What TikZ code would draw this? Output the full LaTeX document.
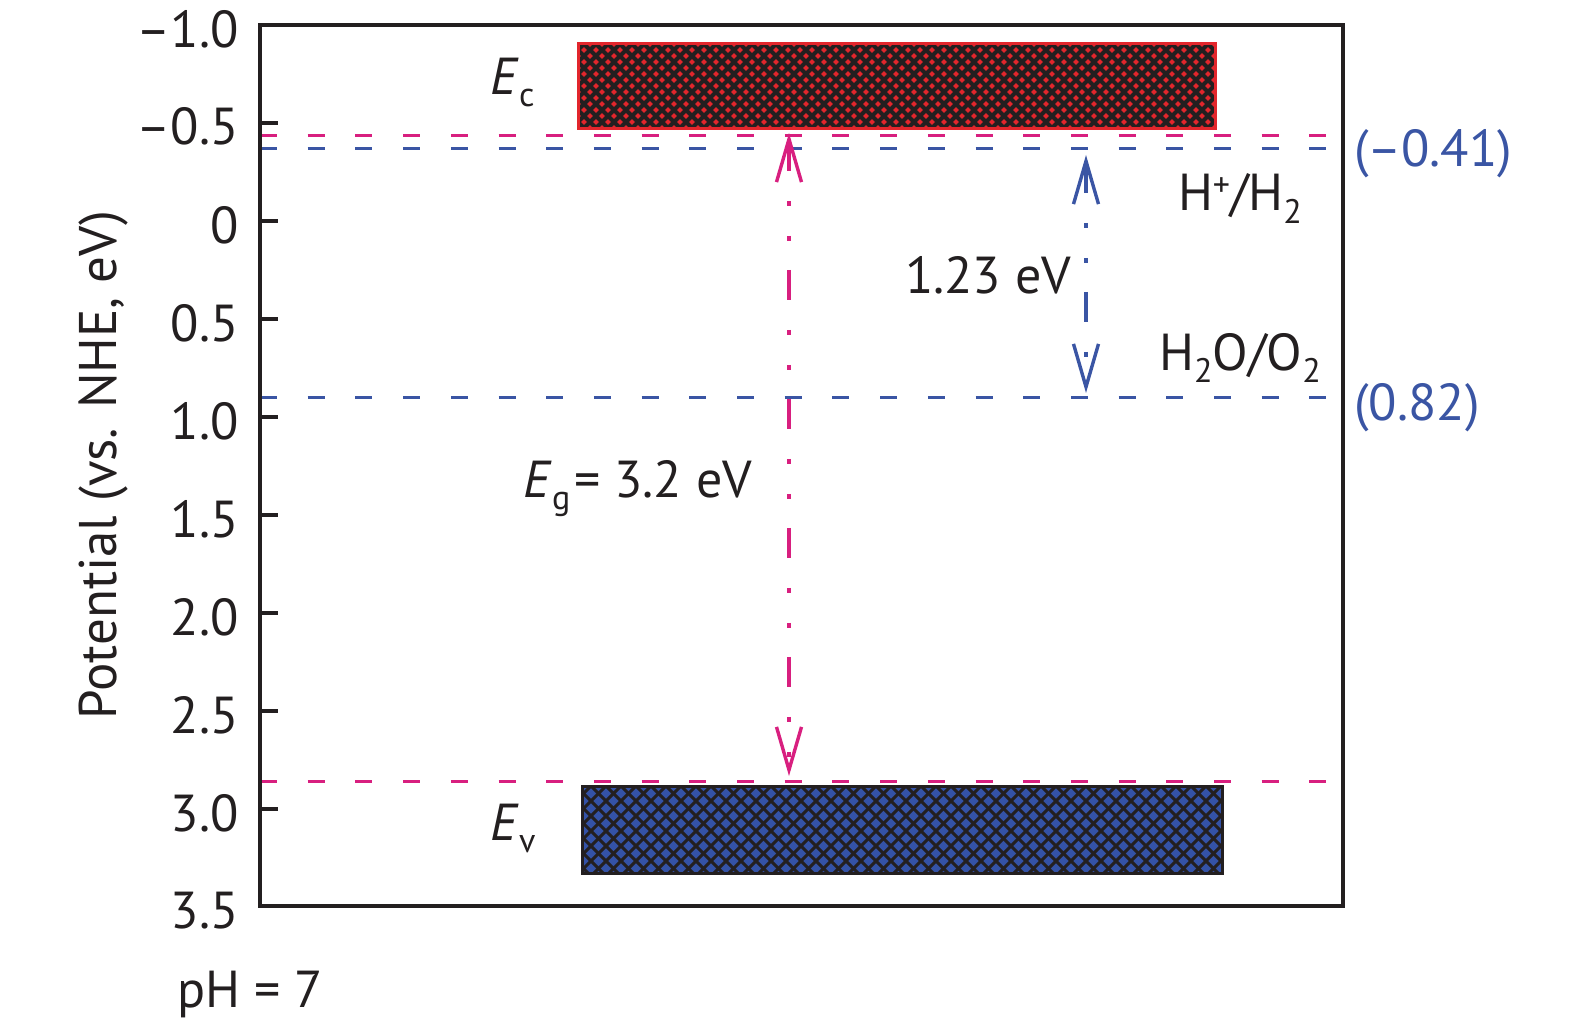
\documentclass[tikz,border=0pt]{standalone}
\usepackage{fontspec}
\setmainfont{PT Sans}
\usetikzlibrary{arrows.meta}
\definecolor{mag}{HTML}{D81F7F}
\definecolor{bl}{HTML}{3A55A4}
\definecolor{rd}{HTML}{E2262C}
\definecolor{ink}{HTML}{231F20}
\definecolor{bbar}{HTML}{3452A6}
\newcommand{\mysub}[1]{\raisebox{-6pt}{\fontsize{17}{17}\selectfont #1}}
\newcommand{\mysup}[1]{\raisebox{7pt}{\fontsize{17}{17}\selectfont #1}}
\tikzset{
 lbl/.style={font=\fontsize{26}{31}\selectfont, text=ink, inner sep=0pt},
 bluelbl/.style={lbl, text=bl},
 axisline/.style={draw=ink, line width=1.75pt},
 level/.style={line width=1.6pt, dash pattern=on 8.5pt off 15.35pt},
 gaparrow/.style={line width=1.7pt,
   dash pattern=on 15pt off 15pt on 2.5pt off 15pt on 2.5pt off 14.5pt,
   >={Straight Barb[length=21.5pt,width=12.5pt]}, <->},
}
\begin{document}
\begin{tikzpicture}[x=0.5pt,y=-0.5pt]
\useasboundingbox (0,0) rectangle (1575,1022);

% conduction band (red hatched)
\begin{scope}
  \clip (578,44) rectangle (1215,129);
  \fill[rd] (578,44) rectangle (1215,129);
  \foreach \x in {488,500,...,1312} {
    \draw[ink, line width=2.1pt] (\x,44) -- ++(85,85);
    \draw[ink, line width=2.1pt] (\x,44) -- ++(-85,85);
  }
\end{scope}
\draw[rd, line width=1.5pt] (578,44) rectangle (1215,129);

% valence band (blue hatched)
\begin{scope}
  \clip (582,786) rectangle (1222,873);
  \fill[bbar] (582,786) rectangle (1222,873);
  \foreach \x in {486,501,...,1326} {
    \draw[ink, line width=1.5pt] (\x,786) -- ++(87,87);
    \draw[ink, line width=1.5pt] (\x,786) -- ++(-87,87);
  }
\end{scope}
\draw[ink, line width=1.5pt] (582,786) rectangle (1222,873);

% level coordinates
\coordinate (cbL) at (260,135.5);  \coordinate (cbR) at (1343,135.5);
\coordinate (hL)  at (260,148.5);  \coordinate (hR)  at (1343,148.5);
\coordinate (oL)  at (260,397.5);  \coordinate (oR)  at (1343,397.5);
\coordinate (vbL) at (260,781.5);  \coordinate (vbR) at (1343,781.5);

\draw[level, mag] (cbL) -- (cbR);
\draw[level, bl]  (hL) -- (hR);
\draw[level, bl]  (oL) -- (oR);
\draw[level, mag] (vbL) -- (vbR);

% frame and ticks
\draw[axisline] (260,25) rectangle (1343,906);
\foreach \v in {-0.5,0,0.5,1.0,1.5,2.0,2.5,3.0} {
  \draw[ink, line width=1.75pt] (260,{221+196*\v}) -- (278,{221+196*\v});
}

% tick labels
\node[lbl, anchor=east] (t1) at (239,29)  {–1.0};
\node[lbl, anchor=east] (t2) at (239,126) {–0.5};
\node[lbl, anchor=east] (t3) at (239,225) {0};
\node[lbl, anchor=east] (t4) at (239,323) {0.5};
\node[lbl, anchor=east] (t5) at (239,421) {1.0};
\node[lbl, anchor=east] (t6) at (239,519) {1.5};
\node[lbl, anchor=east] (t7) at (239,617) {2.0};
\node[lbl, anchor=east] (t8) at (239,715) {2.5};
\node[lbl, anchor=east] (t9) at (239,813) {3.0};
\node[lbl, anchor=east] (t10) at (239,911) {3.5};

\node[lbl, rotate=90, font=\fontsize{26.5}{31}\selectfont] (ylab) at (103,465) {Potential (vs. NHE, eV)};
\node[lbl, anchor=base west] (ph) at (177,1007) {pH = 7};

% arrows
\coordinate (egT) at (789,133);
\coordinate (egB) at (789,776);
\coordinate (wT) at (1086,155);
\coordinate (wB) at (1086,393);
\draw[gaparrow, mag] (egT) -- (egB);
\draw[gaparrow, bl] (wT) -- (wB);

% labels
\node[lbl, anchor=base west] (ec) at (490,95) {\textit{E}\mysub{c}};
\node[lbl, anchor=base west] (ev) at (490,840) {\textit{E}\mysub{v}};
\node[lbl, anchor=base west] (eg) at (523,497) {\textit{E}\mysub{g}\kern2pt= 3.2 eV};
\node[lbl, anchor=base] (w) at (988,293) {1.23 eV};
\node[lbl, anchor=base] (hh) at (1240,211) {H\mysup{+}/H\mysub{2}};
\node[lbl, anchor=base] (ho) at (1240,370) {H\mysub{2}O/O\mysub{2}};
\node[bluelbl, anchor=base west] (v1) at (1354,167) {(–0.41)};
\node[bluelbl, anchor=base west] (v2) at (1354,420) {(0.82)};
\end{tikzpicture}
\end{document}
